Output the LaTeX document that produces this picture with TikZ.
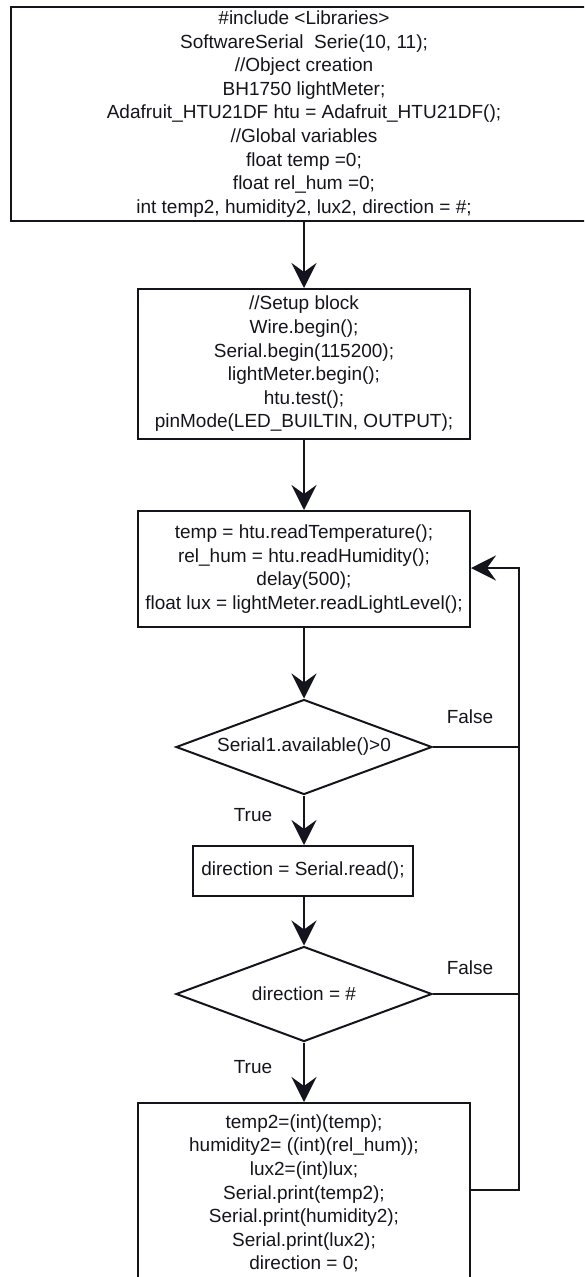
\documentclass[tikz,border=0pt]{standalone}
\usepackage{fontspec}
\setmainfont{Liberation Sans}
\usetikzlibrary{shapes.geometric,arrows.meta}
\definecolor{ink}{RGB}{20,20,28}
\begin{document}
\begin{tikzpicture}[x=1pt,y=-1pt,
  every node/.style={font=\fontsize{19}{23.6}\selectfont, text=ink},
  block/.style={draw=ink, line width=2pt, align=center, inner sep=0pt},
  decision/.style={draw=ink, diamond, aspect=2.7, line width=2pt, inner sep=0pt,
                   minimum width=256pt, minimum height=95pt},
  flow/.style={draw=ink, line width=2.6pt, line join=miter,
               -{Stealth[length=25pt,width=25pt,inset=9pt]}},
  link/.style={draw=ink, line width=2.6pt},
  tag/.style={inner sep=0pt}]
\useasboundingbox (0,0) rectangle (584,1277);
\clip (0,0) rectangle (584,1277);

% declarations
\node[block, minimum width=586pt, minimum height=214pt] (head) at (304,114)
  {\#include <Libraries>\\
   SoftwareSerial~ Serie(10, 11);\\
   //Object creation\\
   BH1750 lightMeter;\\
   Adafruit\_HTU21DF htu = Adafruit\_HTU21DF();\\
   //Global variables\\
   float temp =0;\\
   float rel\_hum =0;\\
   int temp2, humidity2, lux2, direction = \#;};

% setup
\node[block, minimum width=332pt, minimum height=150pt] (setup) at (304,364)
  {//Setup block\\
   Wire.begin();\\
   Serial.begin(115200);\\
   lightMeter.begin();\\
   htu.test();\\
   pinMode(LED\_BUILTIN, OUTPUT);};

% loop body: read sensors
\node[block, minimum width=332pt, minimum height=116pt] (body) at (304,569)
  {temp = htu.readTemperature();\\
   rel\_hum = htu.readHumidity();\\
   delay(500);\\
   float lux = lightMeter.readLightLevel();};

\node[decision] (d1) at (304,747) {Serial1.available()>0};

\node[block, minimum width=220pt, minimum height=50pt] (dir) at (303,871)
  {direction = Serial.read();};

\node[decision] (d2) at (304,994) {direction = \#};

\node[block, minimum width=332pt, minimum height=181pt] (tail) at (304,1193.5)
  {temp2=(int)(temp);\\
   humidity2= ((int)(rel\_hum));\\
   lux2=(int)lux;\\
   Serial.print(temp2);\\
   Serial.print(humidity2);\\
   Serial.print(lux2);\\
   direction = 0;};

% branch labels
\node[tag] (f1) at (470,717) {False};
\node[tag] (t1) at (253,815) {True};
\node[tag] (f2) at (470,968) {False};
\node[tag] (t2) at (253,1067) {True};

% main flow
\draw[flow] (head) -- (setup);
\draw[flow] (setup) -- (body);
\draw[flow] (body) -- (d1);
\draw[flow] (d1.south) -- (d1.south |- dir.north);
\draw[flow] (d2.north |- dir.south) -- (d2.north);
\draw[flow] (d2) -- (tail);

% return path to the loop body
\coordinate (loopb) at (519,1190);
\coordinate (loopt) at (519,568);
\draw[flow] (tail.east |- loopb) -- (loopb) -- (loopt) -- (body.east |- loopt);
\draw[link] (d1.east) -- (d1.east -| loopt);
\draw[link] (d2.east) -- (d2.east -| loopt);
\end{tikzpicture}
\end{document}
